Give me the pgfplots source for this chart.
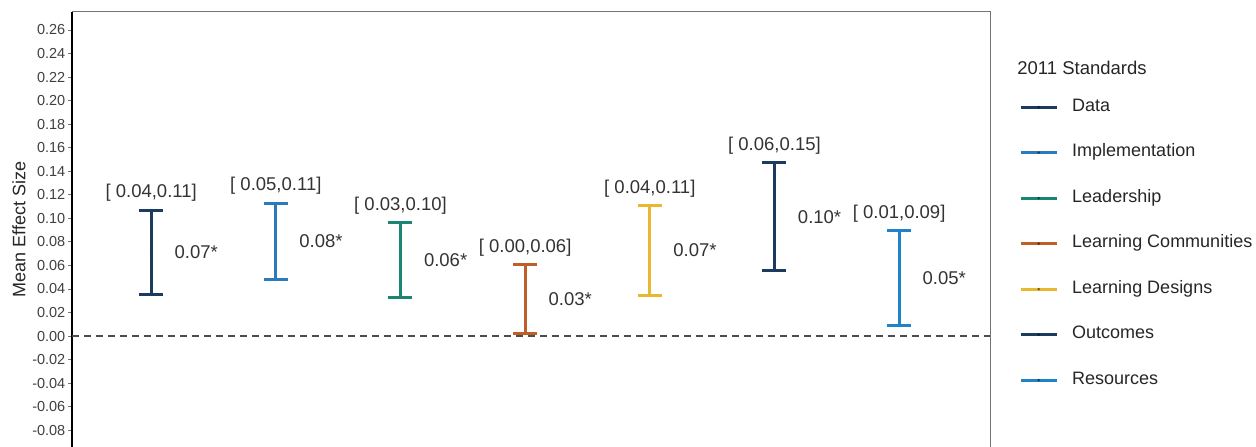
\documentclass[border=0pt]{standalone}
\usepackage{fontspec}
\setmainfont{Liberation Sans}
\usepackage{pgfplots}
\pgfplotsset{compat=1.18}
\definecolor{navy}{HTML}{1C3B5E}
\definecolor{implblue}{HTML}{2B7AB9}
\definecolor{teal2}{HTML}{1B8573}
\definecolor{lcorange}{HTML}{BE5F28}
\definecolor{ldyellow}{HTML}{E8B930}
\definecolor{resblue}{HTML}{2182C8}
\begin{document}
\begin{tikzpicture}
\useasboundingbox (0,0) rectangle (1256bp,447bp);
\begin{axis}[
  at={(72bp,0bp)}, anchor=south west,
  scale only axis, width=918bp, height=435bp,
  xmin=0.365, xmax=7.729, ymin=-0.0943, ymax=0.2753,
  clip=false,
  axis x line=none, axis y line*=left,
  axis line style={-},
  y axis line style={line width=2.5bp, black, -},
  ytick={-0.08,-0.06,-0.04,-0.02,0,0.02,0.04,0.06,0.08,0.10,0.12,0.14,0.16,0.18,0.20,0.22,0.24,0.26},
  tick align=outside, major tick length=4bp,
  ytick style={black!55, line width=0.8bp},
  y tick label style={/pgf/number format/.cd, fixed, fixed zerofill, precision=2, assume math mode=true, /tikz/.cd, font=\fontsize{14.5bp}{16bp}\selectfont, text=black!75, inner xsep=2.5bp},
  ylabel={Mean Effect Size},
  every axis y label/.style={at={(axis description cs:-0.0577,0.5)}, anchor=center, rotate=90, font=\fontsize{18bp}{20bp}\selectfont, text=black!85},
  legend image code/.code={\draw[line width=3bp] (0bp,0bp) -- (36bp,0bp); \fill[black, opacity=0.35] (18bp,0bp) circle (1.2bp);},
  legend style={at={(rel axis cs:1.0316,0.800)}, anchor=north west, draw=none, fill=none, inner sep=0pt, row sep=29.5bp, column sep=14bp, font=\fontsize{18bp}{20bp}\selectfont, text=black!85, nodes={inner sep=0pt, text height=12bp, text depth=4bp}},
  legend cell align=left,
]
% zero reference line
\addplot[forget plot, color=black!70, line width=1.5bp, dash pattern=on 7bp off 5bp] coordinates {(0.365,0) (7.729,0)};
% error bars: centre +- half width
\pgfplotsset{ebar/.style={forget plot, only marks, mark=*, mark size=1.1bp,
  error bars/.cd, y dir=both, y explicit,
  error bar style={line width=3bp},
  error mark options={rotate=90, mark size=12bp, line width=3bp}}}
\addplot[navy, ebar] coordinates {(1,0.0710) +- (0,0.0360)};
\addplot[implblue, ebar] coordinates {(2,0.0805) +- (0,0.0325)};
\addplot[teal2, ebar] coordinates {(3,0.0647) +- (0,0.0317)};
\addplot[lcorange, ebar] coordinates {(4,0.0312) +- (0,0.0292)};
\addplot[ldyellow, ebar] coordinates {(5,0.0729) +- (0,0.0381)};
\addplot[navy, ebar] coordinates {(6,0.1014) +- (0,0.0459)};
\addplot[resblue, ebar] coordinates {(7,0.0493) +- (0,0.0400)};
% annotations
\begin{scope}[every node/.style={font=\fontsize{18.5bp}{20bp}\selectfont, text=black!80}]
\node[anchor=center, yshift=17bp] at (axis cs:1,0.107) {[ 0.04,0.11]};
\node[anchor=center, yshift=17bp] at (axis cs:2,0.113) {[ 0.05,0.11]};
\node[anchor=center, yshift=17bp] at (axis cs:3,0.0964) {[ 0.03,0.10]};
\node[anchor=center, yshift=17bp] at (axis cs:4,0.0604) {[ 0.00,0.06]};
\node[anchor=center, yshift=17bp] at (axis cs:5,0.111) {[ 0.04,0.11]};
\node[anchor=center, yshift=17bp] at (axis cs:6,0.1473) {[ 0.06,0.15]};
\node[anchor=center, yshift=17bp] at (axis cs:7,0.0893) {[ 0.01,0.09]};
\node[anchor=west, xshift=20bp] at (axis cs:1,0.0710) {0.07*};
\node[anchor=west, xshift=20bp] at (axis cs:2,0.0805) {0.08*};
\node[anchor=west, xshift=20bp] at (axis cs:3,0.0647) {0.06*};
\node[anchor=west, xshift=20bp] at (axis cs:4,0.0312) {0.03*};
\node[anchor=west, xshift=20bp] at (axis cs:5,0.0729) {0.07*};
\node[anchor=west, xshift=20bp] at (axis cs:6,0.1014) {0.10*};
\node[anchor=west, xshift=20bp] at (axis cs:7,0.0493) {0.05*};
\end{scope}
% frame top and right
\draw[black!55, line width=1bp] (rel axis cs:0,1) -- (rel axis cs:1,1) -- (rel axis cs:1,0);
% legend
\node[anchor=west, font=\fontsize{18.5bp}{20bp}\selectfont, text=black!85] at (rel axis cs:1.0260,0.871) {2011 Standards};
\addlegendimage{navy}\addlegendentry{Data}
\addlegendimage{implblue}\addlegendentry{Implementation}
\addlegendimage{teal2}\addlegendentry{Leadership}
\addlegendimage{lcorange}\addlegendentry{Learning Communities}
\addlegendimage{ldyellow}\addlegendentry{Learning Designs}
\addlegendimage{navy}\addlegendentry{Outcomes}
\addlegendimage{resblue}\addlegendentry{Resources}
\end{axis}
\end{tikzpicture}
\end{document}
